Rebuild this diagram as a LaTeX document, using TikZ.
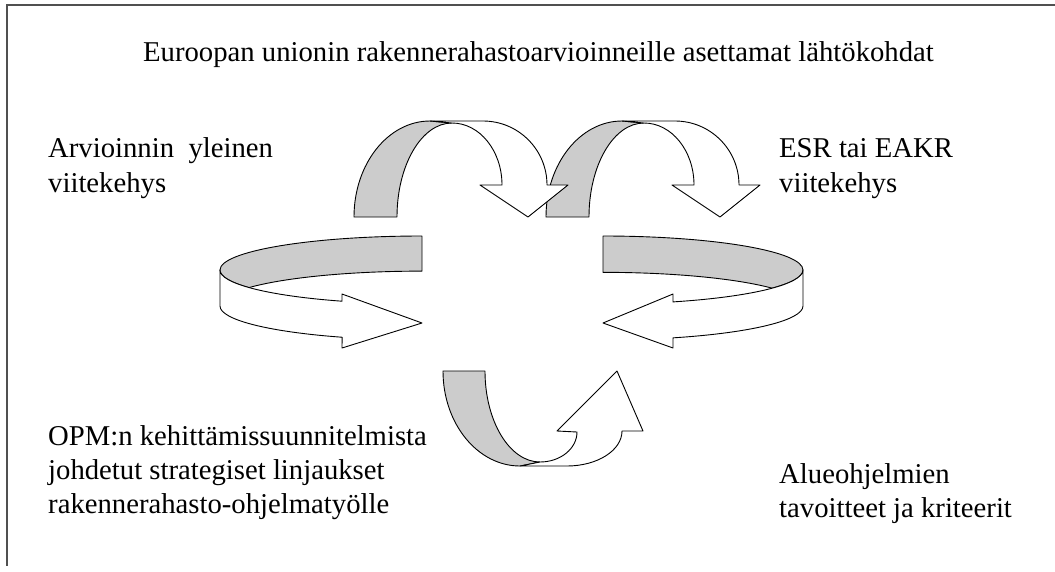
\documentclass[tikz,border=0pt]{standalone}
\usepackage{fontspec}
\setmainfont{Liberation Serif}
\definecolor{ribgray}{RGB}{204,204,204}
\definecolor{framegray}{RGB}{80,80,80}
\begin{document}
\begin{tikzpicture}[x=1pt,y=-1pt,
  ribbon/.style={draw=black,line width=0.9pt,line join=round},
  backface/.style={ribbon,fill=ribgray},
  frontface/.style={ribbon,fill=white},
  lbl/.style={anchor=base west,inner sep=0pt,font=\fontsize{28.7}{34}\selectfont},
  framestyle/.style={draw=framegray,line width=1.6pt}]
\useasboundingbox (0,0) rectangle (1055,571);
% frame (top and left edges only)
\coordinate (fTR) at (1055,5);
\coordinate (fTL) at (7,5);
\coordinate (fBL) at (7,566);
\draw[framestyle] (fTR) -- (fTL) -- (fBL);

% top arrow 2 (drawn first, arrow 1's head lies over it)
\begin{scope}[shift={(192,0)}]
\draw[backface] (354,217) arc[start angle=180,end angle=270,x radius=76,y radius=96] -- (452,123) arc[start angle=270,end angle=180,x radius=55,y radius=94] -- cycle;
\draw[frontface] (430,121) -- (483,121) arc[start angle=270,end angle=360,x radius=64,y radius=64] -- (568,185) -- (528,217) -- (480,185) -- (502,185) arc[start angle=0,end angle=-90,x radius=50,y radius=62] -- cycle;
\end{scope}

% top arrow 1
\draw[backface] (354,217) arc[start angle=180,end angle=270,x radius=76,y radius=96] -- (452,123) arc[start angle=270,end angle=180,x radius=55,y radius=94] -- cycle;
\draw[frontface] (430,121) -- (483,121) arc[start angle=270,end angle=360,x radius=64,y radius=64] -- (568,185) -- (528,217) -- (480,185) -- (502,185) arc[start angle=0,end angle=-90,x radius=50,y radius=62] -- cycle;

% left ribbon arrow
\draw[backface] (422,236) arc[start angle=270,end angle=148.9,x radius=202,y radius=34] arc[start angle=211.1,end angle=270,x radius=202,y radius=34] -- cycle;
\draw[frontface] (220,270) -- (220,306) arc[start angle=180,end angle=113.3,x radius=202,y radius=34] -- (342,348) -- (422,323) -- (342,294) -- (342,301.2) arc[start angle=113.3,end angle=180,x radius=202,y radius=34] -- cycle;

% right ribbon arrow
\draw[backface] (603,236) arc[start angle=270,end angle=392.3,x radius=200,y radius=34] arc[start angle=327.7,end angle=270,x radius=200,y radius=34] -- cycle;
\draw[frontface] (803,270) -- (803,306) arc[start angle=0,end angle=69.5,x radius=200,y radius=34] -- (673,348) -- (603,323) -- (673,294) -- (673,301.9) arc[start angle=69.5,end angle=0,x radius=200,y radius=34] -- cycle;

% bottom arrow
\draw[backface] (443,371) arc[start angle=180,end angle=90,x radius=77,y radius=95] -- (540,462) arc[start angle=90,end angle=180,x radius=55,y radius=91] -- cycle;
\draw[frontface] (520,466) -- (567,466) arc[start angle=90,end angle=0,x radius=55,y radius=35] -- (643,431) -- (617,371) -- (557,431) -- (577,432) arc[start angle=0,end angle=90,x radius=37,y radius=30] -- cycle;

% texts
\node[lbl] (title) at (143,61) {Euroopan unionin rakennerahastoarvioinneille asettamat lähtökohdat};
\node[lbl] (gen1) at (48,157) {Arvioinnin~~yleinen};
\node[lbl] (gen2) at (48,192) {viitekehys};
\node[lbl] (esr1) at (779,157) {ESR tai EAKR};
\node[lbl] (esr2) at (779,192) {viitekehys};
\node[lbl] (opm1) at (48,445) {OPM:n kehittämissuunnitelmista};
\node[lbl] (opm2) at (48,479) {johdetut strategiset linjaukset};
\node[lbl] (opm3) at (48,513) {rakennerahasto-ohjelmatyölle};
\node[lbl] (alu1) at (779,483) {Alueohjelmien};
\node[lbl] (alu2) at (779,517) {tavoitteet ja kriteerit};
\end{tikzpicture}
\end{document}
